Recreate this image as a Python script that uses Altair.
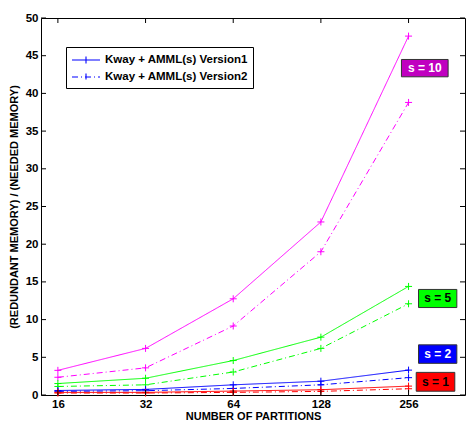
import altair as alt
import pandas as pd

partitions = [16, 32, 64, 128, 256]
s_values = ["s = 10", "s = 5", "s = 2", "s = 1"]
versions = ["Kway + AMML(s) Version1", "Kway + AMML(s) Version2"]

v1_s10 = [3.27, 6.18, 12.76, 22.95, 47.6]
v2_s10 = [2.35, 3.6, 9.15, 19.0, 38.8]
v1_s5 = [1.52, 2.22, 4.57, 7.67, 14.4]
v2_s5 = [1.13, 1.35, 3.05, 6.18, 12.1]
v1_s2 = [0.6, 0.74, 1.35, 1.83, 3.3]
v2_s2 = [0.48, 0.57, 0.87, 1.35, 2.3]
v1_s1 = [0.35, 0.35, 0.52, 0.7, 1.18]
v2_s1 = [0.26, 0.26, 0.35, 0.48, 0.83]

line_colors = ["#ff00ff", "#00ff00", "#0000ff", "#ff0000"]

# annotation boxes (data units)
ann_label = ["s = 10", "s = 5", "s = 2", "s = 1"]
ann_x1 = [242, 277, 277, 272]
ann_x2 = [350, 375, 375, 369]
ann_y1 = [42.2, 11.6, 4.2, 0.5]
ann_y2 = [44.5, 14.0, 6.65, 3.0]
ann_fill = ["#c000c0", "#00ff00", "#0000ff", "#ff0000"]
ann_text_color = ["#ffffff", "#000000", "#ffffff", "#000000"]

x_ticks = [16, 32, 64, 128, 256]
y_ticks = [0, 5, 10, 15, 20, 25, 30, 35, 40, 45, 50]

series = {
    ("s = 10", versions[0]): v1_s10, ("s = 10", versions[1]): v2_s10,
    ("s = 5", versions[0]): v1_s5, ("s = 5", versions[1]): v2_s5,
    ("s = 2", versions[0]): v1_s2, ("s = 2", versions[1]): v2_s2,
    ("s = 1", versions[0]): v1_s1, ("s = 1", versions[1]): v2_s1,
}
rows = []
for (s, ver), vals in series.items():
    for p, v in zip(partitions, vals):
        rows.append({"partitions": p, "value": v, "s": s, "version": ver})
df = pd.DataFrame(rows)

ann = pd.DataFrame({
    "label": ann_label, "x1": ann_x1, "x2": ann_x2, "y1": ann_y1, "y2": ann_y2,
    "fill": ann_fill, "tc": ann_text_color,
})
ann["xc"] = (ann["x1"] * ann["x2"]) ** 0.5
ann["yc"] = (ann["y1"] + ann["y2"]) / 2

W, H = 424, 377
FONT = "Liberation Sans"

xscale = alt.Scale(type="log", base=2, domain=[14, 400], nice=False)
yscale = alt.Scale(domain=[0, 50], nice=False)
xaxis = alt.Axis(values=x_ticks, title="NUMBER OF PARTITIONS", grid=False,
                 ticks=False, labelPadding=3, titlePadding=1,
                 labelFlush=False, labelOverlap=False, format="d")
yaxis = alt.Axis(values=y_ticks, title="(REDUNDANT MEMORY) / (NEEDED MEMORY)",
                 grid=False, ticks=False, labelPadding=3, titlePadding=6,
                 labelOverlap=False, labelFlush=False, format="d")


def X(f):
    return alt.X(f, scale=xscale, axis=xaxis)


def Y(f):
    return alt.Y(f, scale=yscale, axis=yaxis)


color = alt.Color("s:N", scale=alt.Scale(domain=s_values, range=line_colors), legend=None)
dash = alt.StrokeDash("version:N",
                      scale=alt.Scale(domain=versions, range=[[1, 0], [6, 3, 1, 3]]),
                      legend=alt.Legend(title=None, orient="none", legendX=25, legendY=29,
                                        strokeColor="black", fillColor="white", padding=5,
                                        symbolType="M-2,0H2M0,-0.5V0.5", symbolSize=196,
                                        symbolOffset=7,
                                        symbolStrokeColor="#0000ff", symbolStrokeWidth=1.1,
                                        labelFont=FONT, labelFontWeight="bold",
                                        labelFontSize=11.5, labelColor="black",
                                        labelOffset=11, rowPadding=3))

lines = alt.Chart(df).mark_line(strokeWidth=1).encode(
    x=X("partitions:Q"), y=Y("value:Q"), color=color, strokeDash=dash)
points = alt.Chart(df).mark_point(shape="M-1,0H1M0,-1V1", size=49, filled=False,
                                  strokeWidth=1, opacity=1).encode(
    x=X("partitions:Q"), y=Y("value:Q"), color=color, detail="version:N")

tick_x = pd.DataFrame({"t": x_ticks})
tick_y = pd.DataFrame({"t": y_ticks})
tx_bot = alt.Chart(tick_x).mark_rule(color="black").encode(
    x=X("t:Q"), y=alt.value(H), y2=alt.value(H - 5))
tx_top = alt.Chart(tick_x).mark_rule(color="black").encode(
    x=X("t:Q"), y=alt.value(0), y2=alt.value(5))
ty_left = alt.Chart(tick_y).mark_rule(color="black").encode(
    y=Y("t:Q"), x=alt.value(0), x2=alt.value(5))
ty_right = alt.Chart(tick_y).mark_rule(color="black").encode(
    y=Y("t:Q"), x=alt.value(W - 5), x2=alt.value(W))

boxes = alt.Chart(ann).mark_rect(stroke="#333333", strokeWidth=1).encode(
    x=X("x1:Q"), x2="x2:Q", y=Y("y1:Q"), y2="y2:Q",
    fill=alt.Fill("fill:N", scale=None))
texts = alt.Chart(ann).mark_text(font=FONT, fontWeight="bold", fontSize=12).encode(
    x=X("xc:Q"), y=Y("yc:Q"),
    text="label:N", color=alt.Color("tc:N", scale=None))

chart = alt.layer(lines, points, tx_bot, tx_top, ty_left, ty_right, boxes, texts).properties(
    width=W, height=H, padding={"left": 0, "top": 4, "right": 0, "bottom": 0}
).configure_view(stroke="black", strokeWidth=1).configure_axis(
    labelFont=FONT, labelFontWeight="bold", labelFontSize=11.5, labelColor="black",
    titleFont=FONT, titleFontWeight="bold", titleFontSize=11, titleColor="black",
    domain=False
).configure_legend(symbolStrokeColor="#0000ff")

chart.save("out.html", embed_options={"renderer": "svg", "actions": False})
